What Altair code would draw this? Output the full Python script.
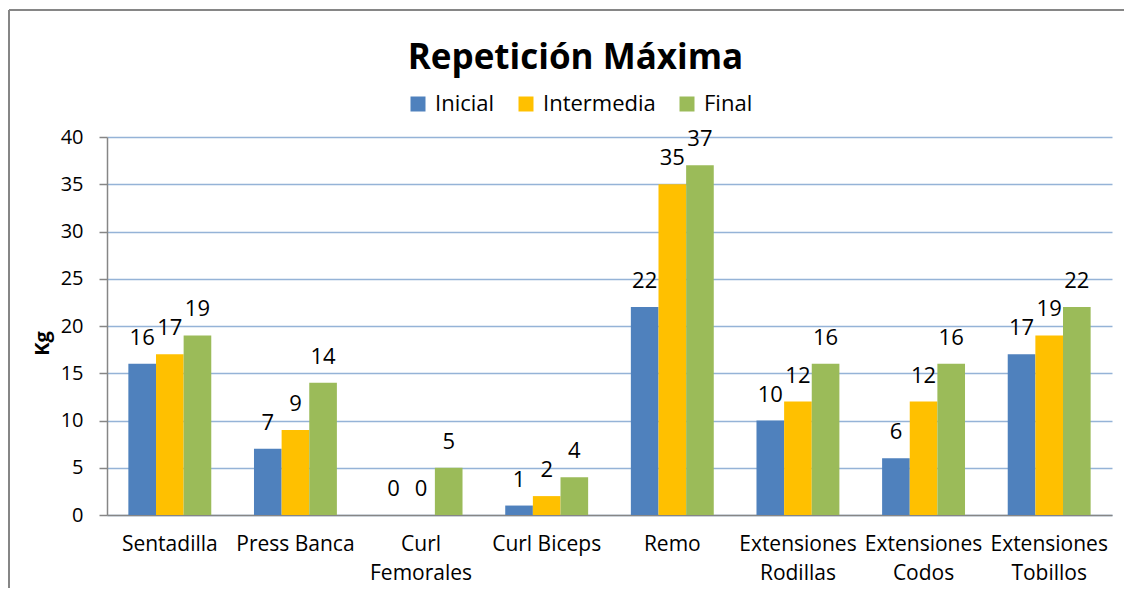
import altair as alt
import pandas as pd

categories = ["Sentadilla", "Press Banca", "Curl Femorales", "Curl Biceps", "Remo",
              "Extensiones Rodillas", "Extensiones Codos", "Extensiones Tobillos"]
series = ["Inicial", "Intermedia", "Final"]
inicial = [16, 7, 0, 1, 22, 10, 6, 17]
intermedia = [17, 9, 0, 2, 35, 12, 12, 19]
final = [19, 14, 5, 4, 37, 16, 16, 22]
y_ticks = [0, 5, 10, 15, 20, 25, 30, 35, 40]
colors = ["#4F81BD", "#FFC000", "#9BBB59"]

rows = []
for name, vals in zip(series, [inicial, intermedia, final]):
    for c, v in zip(categories, vals):
        rows.append({"Ejercicio": c, "Serie": name, "Valor": v})
df = pd.DataFrame(rows)

FONT = "Open Sans"
AXIS_GRAY = "#868686"

x_enc = alt.X(
    "Ejercicio:N", sort=categories,
    scale=alt.Scale(paddingInner=0.34, paddingOuter=0.17),
    axis=alt.Axis(
        title=None, labelAngle=0, labelFontSize=21, labelFont=FONT, labelColor="black",
        ticks=False, domainColor=AXIS_GRAY, domainWidth=1.5, labelPadding=29,
        labelLineHeight=29, labelBaseline="middle",
        labelExpr="length(datum.label) > 12 ? split(datum.label, ' ') : datum.label",
    ),
)
y_enc = alt.Y(
    "Valor:Q", scale=alt.Scale(domain=[0, 40]),
    axis=alt.Axis(
        values=y_ticks, title="Kg", titleFontSize=20, titleFont=FONT, titleFontWeight="bold",
        titleColor="black", titleAngle=270, titleX=-65, titleY=206, titleAlign="center",
        titleBaseline="middle", tickSize=8, tickColor=AXIS_GRAY, tickWidth=1.5,
        domainColor=AXIS_GRAY, domainWidth=1.5, gridColor="#95B3D7", gridWidth=1.5,
        labelFontSize=20, labelFont=FONT, labelColor="black", labelPadding=16,
    ),
)
xoff = alt.XOffset("Serie:N", sort=series, scale=alt.Scale(paddingInner=0, paddingOuter=0))

bars = alt.Chart(df).mark_bar().encode(
    x=x_enc, y=y_enc, xOffset=xoff,
    color=alt.Color(
        "Serie:N", sort=series, scale=alt.Scale(domain=series, range=colors),
        legend=alt.Legend(
            orient="none", legendX=300, legendY=-44, direction="horizontal", title=None,
            symbolType="square", symbolSize=225, symbolStrokeWidth=0, labelFontSize=22,
            labelFont=FONT, labelColor="black", columnPadding=20, labelOffset=6,
        ),
    ),
)

labels = alt.Chart(df).mark_text(
    dy=-26, baseline="middle", fontSize=22, font=FONT, color="black"
).encode(x=x_enc, y=y_enc, xOffset=xoff, text="Valor:Q")

frame = pd.DataFrame({"a": [0]})
border_top = alt.Chart(frame).mark_rule(stroke=AXIS_GRAY, strokeWidth=2).encode(
    x=alt.value(-98), x2=alt.value(1017), y=alt.value(-127)
)
border_left = alt.Chart(frame).mark_rule(stroke=AXIS_GRAY, strokeWidth=2).encode(
    x=alt.value(-98), y=alt.value(-127), y2=alt.value(460)
)

chart = alt.layer(border_top, border_left, bars, labels).properties(
    width=1005, height=378,
    autosize=alt.AutoSizeParams(type="none"),
    padding={"left": 99, "top": 129, "right": 12, "bottom": 73},
    title=alt.TitleParams(
        "Repetición Máxima", fontSize=35, font=FONT, fontWeight="bold", color="black",
        anchor="middle", dx=-34, offset=0, dy=67,
    ),
).configure_view(strokeWidth=0)

chart.save("out.html", embed_options={"renderer": "svg", "actions": False})
